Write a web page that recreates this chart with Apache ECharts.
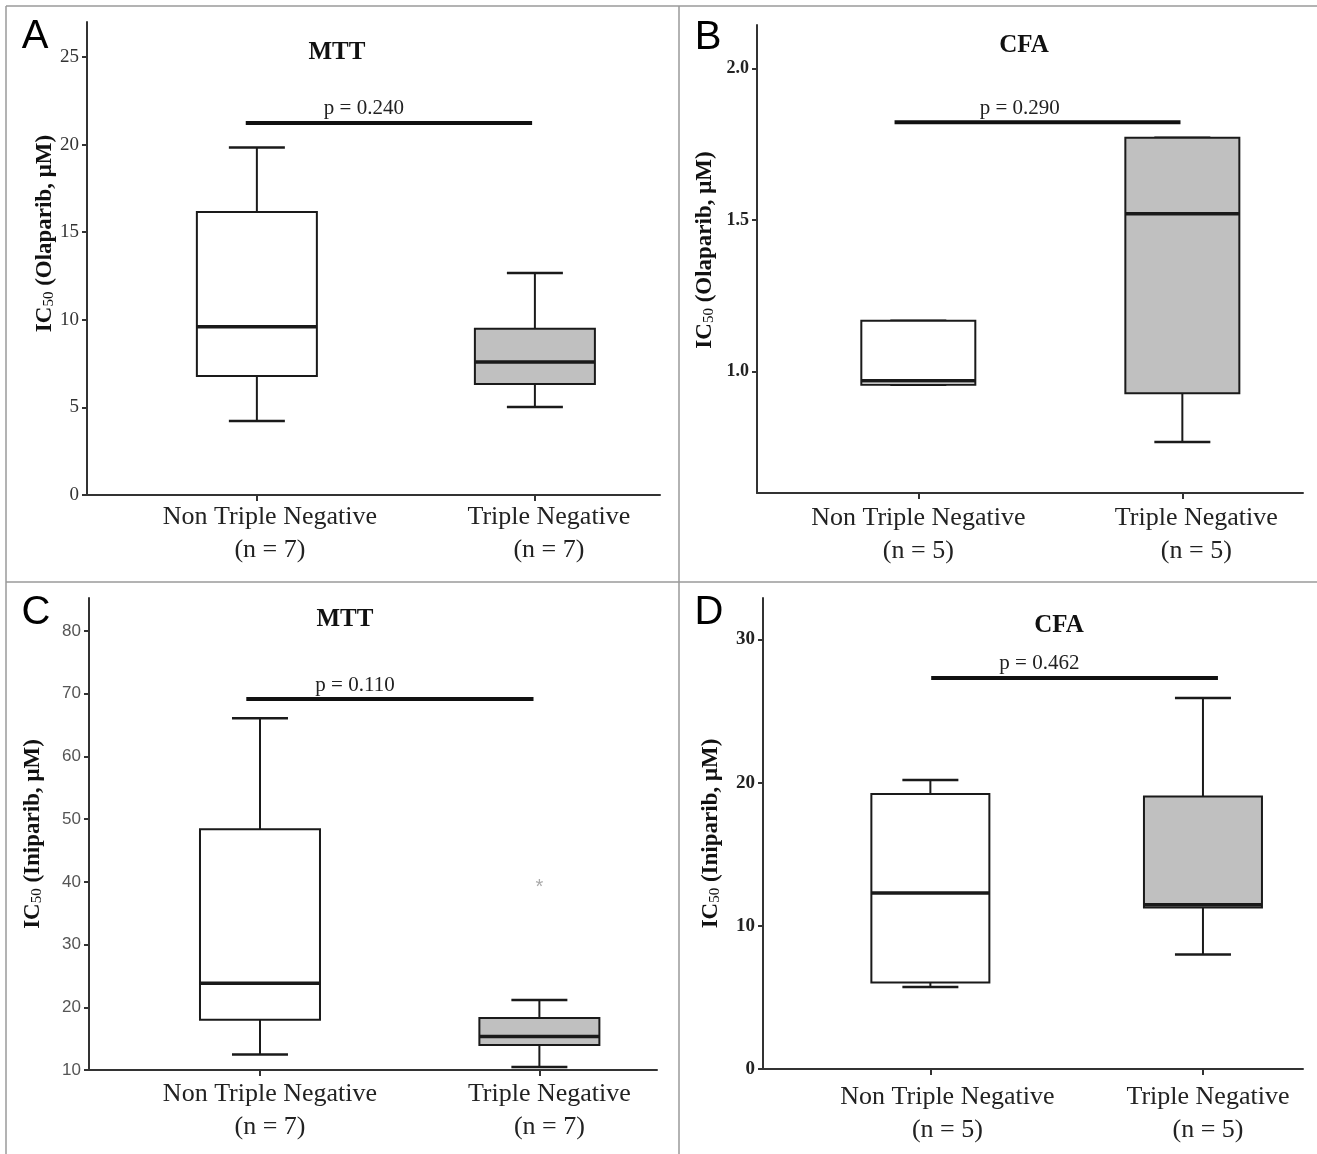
<!DOCTYPE html>
<html>
<head>
<meta charset="utf-8">
<script src="https://cdn.jsdelivr.net/npm/echarts@6/dist/echarts.min.js"></script>
<style>
  html, body { margin: 0; padding: 0; background: #fff; }
  #chart { width: 1317px; height: 1154px; }
</style>
</head>
<body>
<div id="chart"></div>
<script>
// groups on the x axis and sample sizes
const groups = ['Non Triple Negative', 'Triple Negative'];
const nOlaMtt = [7, 7];
const nOlaCfa = [5, 5];
const nIniMtt = [7, 7];
const nIniCfa = [5, 5];

// box stats: [min, q1, median, q3, max]
const olaMttNonTN = [4.22, 6.79, 9.60, 16.16, 19.83];
const olaMttTN    = [5.02, 6.33, 7.59, 9.49, 12.67];
const olaCfaNonTN = [0.957, 0.957, 0.970, 1.168, 1.168];
const olaCfaTN    = [0.768, 0.929, 1.521, 1.771, 1.771];
const iniMttNonTN = [12.46, 18.0, 23.85, 48.38, 66.08];
const iniMttTN    = [10.48, 13.97, 15.33, 18.3, 21.17];
const iniMttTNOutlier = [39.7];
const iniCfaNonTN = [5.73, 6.04, 12.30, 19.21, 20.18];
const iniCfaTN    = [8.0, 11.28, 11.48, 19.03, 25.91];

// p values and the bracket: [from group, to group, height], label centre
const pValues = [0.240, 0.290, 0.110, 0.462];
const pBars = [
  [-0.04, 0.99, 21.24],
  [-0.09, 0.993, 1.822],
  [-0.049, 0.979, 69.13],
  [0.003, 1.055, 27.32]
];
const pLabelAt = [0.385, 0.384, 0.34, 0.40];

// tick labels
const ticksA = [0, 5, 10, 15, 20, 25];
const ticksB = [1.0, 1.5, 2.0];
const ticksC = [10, 20, 30, 40, 50, 60, 70, 80];
const ticksD = [0, 10, 20, 30];

const panelLetters = ['A', 'B', 'C', 'D'];
const assays = ['MTT', 'CFA', 'MTT', 'CFA'];
const drugs = ['Olaparib', 'Olaparib', 'Iniparib', 'Iniparib'];

// layout / style per panel
const panels = [
  { grid: { left: 87, top: 22, width: 573, height: 473 }, x: [-0.611, 1.45], y: [0, 27],
    ticks: ticksA, dec: 0, n: nOlaMtt, boxes: [olaMttNonTN, olaMttTN], boxW: 120,
    tickFont: { fontFamily: 'Liberation Serif', fontSize: 19, color: '#333' },
    labelOff: [13, 14], labelMargin: 6, nameGap: 30, namePad: [0, 0, 0, 50],
    letter: [35, 37], title: [337, 53] },
  { grid: { left: 757, top: 25, width: 546, height: 468 }, x: [-0.611, 1.457], y: [0.6, 2.143],
    ticks: ticksB, dec: 1, n: nOlaCfa, boxes: [olaCfaNonTN, olaCfaTN], boxW: 114,
    tickFont: { fontFamily: 'Liberation Serif', fontSize: 18, fontWeight: 'bold', color: '#222' },
    labelOff: [0, 14], labelMargin: 9, nameGap: 40, namePad: [0, 0, 0, 18],
    letter: [708, 38], title: [1024, 46] },
  { grid: { left: 89, top: 598, width: 568, height: 472 }, x: [-0.612, 1.421], y: [10, 85.25],
    ticks: ticksC, dec: 0, n: nIniMtt, boxes: [iniMttNonTN, iniMttTN], boxW: 120,
    outliers: [[1, iniMttTNOutlier[0]]],
    tickFont: { fontFamily: 'Liberation Sans Narrow, Liberation Sans', fontSize: 17, color: '#555' },
    labelOff: [10, 10], labelMargin: 8, nameGap: 44, namePad: [0, 0, 0, 0],
    letter: [36, 613], title: [345, 620] },
  { grid: { left: 763, top: 598, width: 540, height: 471 }, x: [-0.614, 1.367], y: [0, 32.9],
    ticks: ticksD, dec: 0, n: nIniCfa, boxes: [iniCfaNonTN, iniCfaTN], boxW: 118,
    tickFont: { fontFamily: 'Liberation Serif', fontSize: 19, fontWeight: 'bold', color: '#222' },
    labelOff: [17, 5], labelMargin: 12, nameGap: 40, namePad: [0, 0, 0, 0],
    letter: [709, 613], title: [1059, 626] }
];

const axisColor = '#333';
const boxFill = ['#ffffff', '#c0c0c0'];
const capW = 56;

const chart = echarts.init(document.getElementById('chart'));

const grids = [], xAxes = [], yAxes = [], series = [], graphics = [];

panels.forEach((p, i) => {
  grids.push(Object.assign({}, p.grid));

  const rich = {};
  p.labelOff.forEach((off, k) => {
    rich['l' + k] = {
      fontFamily: 'Liberation Serif', fontSize: 26, color: '#222', lineHeight: 33,
      padding: [0, 0, 0, off * 2]
    };
  });

  xAxes.push({
    type: 'value', gridIndex: i, min: p.x[0], max: p.x[1],
    splitLine: { show: false },
    axisLine: { show: true, onZero: false, lineStyle: { color: axisColor, width: 2 } },
    axisTick: { show: true, length: 6, customValues: [0, 1], lineStyle: { color: axisColor, width: 2 } },
    axisLabel: {
      customValues: [0, 1], margin: p.labelMargin,
      formatter: v => {
        const k = Math.round(v);
        return '{l' + k + '|' + groups[k] + '}\n{l' + k + '|(n = ' + p.n[k] + ')}';
      },
      rich: rich
    }
  });

  yAxes.push({
    type: 'value', gridIndex: i, min: p.y[0], max: p.y[1],
    splitLine: { show: false },
    axisLine: { show: true, onZero: false, lineStyle: { color: axisColor, width: 2 } },
    axisTick: { show: true, length: 5, customValues: p.ticks, lineStyle: { color: axisColor, width: 2 } },
    axisLabel: Object.assign({ customValues: p.ticks, margin: 8, formatter: v => v.toFixed(p.dec) }, p.tickFont),
    name: '{b|IC}{s|50}{b| (' + drugs[i] + ', μM)}',
    nameLocation: 'middle', nameRotate: 90, nameGap: p.nameGap,
    nameTextStyle: {
      padding: p.namePad,
      rich: {
        b: { fontFamily: 'Liberation Serif', fontWeight: 'bold', fontSize: 23, color: '#111', lineHeight: 30, verticalAlign: 'bottom' },
        s: { fontFamily: 'Liberation Serif', fontSize: 15, color: '#111', lineHeight: 30, verticalAlign: 'bottom' }
      }
    }
  });

  // box plots
  const bw = p.boxW;
  series.push({
    type: 'custom', xAxisIndex: i, yAxisIndex: i,
    data: p.boxes.map((b, k) => [k].concat(b)),
    renderItem: (params, api) => {
      const x = api.value(0);
      const lo = api.coord([x, api.value(1)]);
      const q1 = api.coord([x, api.value(2)]);
      const md = api.coord([x, api.value(3)]);
      const q3 = api.coord([x, api.value(4)]);
      const hi = api.coord([x, api.value(5)]);
      const cx = lo[0];
      const line = (x1, y1, x2, y2, w) => ({
        type: 'line', shape: { x1, y1, x2, y2 }, style: { stroke: '#1a1a1a', lineWidth: w }
      });
      return {
        type: 'group',
        children: [
          line(cx, hi[1], cx, q3[1], 2),
          line(cx, q1[1], cx, lo[1], 2),
          line(cx - capW / 2, hi[1], cx + capW / 2, hi[1], 2.5),
          line(cx - capW / 2, lo[1], cx + capW / 2, lo[1], 2.5),
          { type: 'rect', shape: { x: cx - bw / 2, y: q3[1], width: bw, height: q1[1] - q3[1] },
            style: { fill: boxFill[params.dataIndex], stroke: '#1a1a1a', lineWidth: 2 } },
          line(cx - bw / 2, md[1], cx + bw / 2, md[1], 3.5)
        ]
      };
    }
  });

  if (p.outliers) {
    series.push({
      type: 'custom', xAxisIndex: i, yAxisIndex: i,
      data: p.outliers,
      renderItem: (params, api) => {
        const pt = api.coord([api.value(0), api.value(1)]);
        return { type: 'text', x: pt[0], y: pt[1] + 4,
          style: { text: '*', fill: '#aaaaaa', fontSize: 20, fontFamily: 'Liberation Sans', align: 'center', verticalAlign: 'middle' } };
      }
    });
  }

  // p value bracket
  series.push({
    type: 'custom', xAxisIndex: i, yAxisIndex: i,
    data: [pBars[i].concat([pLabelAt[i]])],
    renderItem: (params, api) => {
      const a = api.coord([api.value(0), api.value(2)]);
      const b = api.coord([api.value(1), api.value(2)]);
      const t = api.coord([api.value(3), api.value(2)]);
      return {
        type: 'group',
        children: [
          { type: 'line', shape: { x1: a[0], y1: a[1], x2: b[0], y2: b[1] }, style: { stroke: '#111', lineWidth: 4 } },
          { type: 'text', x: t[0], y: t[1] - 14,
            style: { text: 'p = ' + pValues[i].toFixed(3), fill: '#222', fontSize: 21,
                     fontFamily: 'Liberation Serif', align: 'center', verticalAlign: 'middle' } }
        ]
      };
    }
  });

  graphics.push({ type: 'text', x: p.letter[0], y: p.letter[1],
    style: { text: panelLetters[i], fontFamily: 'Liberation Sans', fontSize: 40, fill: '#000', align: 'center', verticalAlign: 'middle' } });
  graphics.push({ type: 'text', x: p.title[0], y: p.title[1],
    style: { text: assays[i], fontFamily: 'Liberation Serif', fontWeight: 'bold', fontSize: 25, fill: '#111', align: 'center', verticalAlign: 'middle' } });
});

// panel frame
const frame = { stroke: '#9a9a9a', lineWidth: 1.5 };
graphics.push({ type: 'line', shape: { x1: 6, y1: 6, x2: 1317, y2: 6 }, style: frame });
graphics.push({ type: 'line', shape: { x1: 6, y1: 6, x2: 6, y2: 1154 }, style: frame });
graphics.push({ type: 'line', shape: { x1: 679, y1: 6, x2: 679, y2: 1154 }, style: frame });
graphics.push({ type: 'line', shape: { x1: 6, y1: 582, x2: 1317, y2: 582 }, style: frame });

chart.setOption({
  backgroundColor: '#fff',
  animation: false,
  grid: grids,
  xAxis: xAxes,
  yAxis: yAxes,
  series: series,
  graphic: graphics
});

window.addEventListener('resize', () => chart.resize());
</script>
</body>
</html>
